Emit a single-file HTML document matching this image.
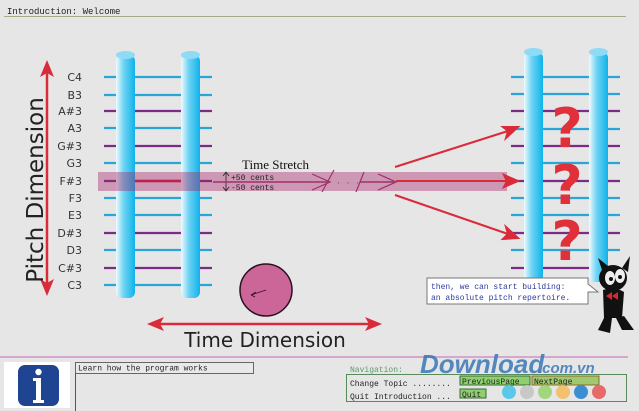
<!DOCTYPE html>
<html><head><meta charset="utf-8"><style>
html,body{margin:0;padding:0;background:#e6e6e6;}
svg{display:block}
.m{font-family:"Liberation Mono",monospace}
.s{font-family:"DejaVu Sans","Liberation Sans",sans-serif}
</style></head><body>
<svg width="639" height="411" viewBox="0 0 639 411" xmlns="http://www.w3.org/2000/svg">
<defs>
<linearGradient id="p" x1="0" x2="1" y1="0" y2="0">
<stop offset="0" stop-color="#f0fafd"/><stop offset="0.4" stop-color="#6fd4f4"/><stop offset="1" stop-color="#0fb2ea"/>
</linearGradient>
</defs>
<rect width="639" height="411" fill="#e6e6e6"/>
<text x="7" y="14" class="m" font-size="9" fill="#222">Introduction: Welcome</text>
<line x1="4" y1="16.5" x2="626" y2="16.5" stroke="#a8aa88" stroke-width="1"/>

<g stroke-width="2.2">
<line x1="104" y1="77" x2="212" y2="77" stroke="#2aa6d6"/>
<line x1="104" y1="95" x2="212" y2="95" stroke="#2aa6d6"/>
<line x1="104" y1="111" x2="212" y2="111" stroke="#7a2c86"/>
<line x1="104" y1="128" x2="212" y2="128" stroke="#2aa6d6"/>
<line x1="104" y1="146" x2="212" y2="146" stroke="#7a2c86"/>
<line x1="104" y1="163" x2="212" y2="163" stroke="#2aa6d6"/>
<line x1="104" y1="181" x2="212" y2="181" stroke="#7a2c86"/>
<line x1="104" y1="198" x2="212" y2="198" stroke="#2aa6d6"/>
<line x1="104" y1="215" x2="212" y2="215" stroke="#2aa6d6"/>
<line x1="104" y1="233" x2="212" y2="233" stroke="#7a2c86"/>
<line x1="104" y1="250" x2="212" y2="250" stroke="#2aa6d6"/>
<line x1="104" y1="268" x2="212" y2="268" stroke="#7a2c86"/>
<line x1="104" y1="285" x2="212" y2="285" stroke="#2aa6d6"/>
</g>
<line x1="135" y1="181" x2="181" y2="181" stroke="#d0203a" stroke-width="2.5"/>
<g class="s" font-size="11" fill="#333" text-anchor="end">
<text x="82" y="81">C4</text><text x="82" y="99">B3</text><text x="82" y="115">A#3</text>
<text x="82" y="132">A3</text><text x="82" y="150">G#3</text><text x="82" y="167">G3</text>
<text x="82" y="185">F#3</text><text x="82" y="202">F3</text><text x="82" y="219">E3</text>
<text x="82" y="237">D#3</text><text x="82" y="254">D3</text><text x="82" y="272">C#3</text>
<text x="82" y="289">C3</text>
</g>
<rect x="116" y="55" width="19" height="243" rx="6" fill="url(#p)"/>
<ellipse cx="125.5" cy="55" rx="9.5" ry="4" fill="#8fdaf5"/>
<rect x="181" y="55" width="19" height="243" rx="6" fill="url(#p)"/>
<ellipse cx="190.5" cy="55" rx="9.5" ry="4" fill="#8fdaf5"/>

<g stroke-width="2.2">
<line x1="511" y1="77" x2="620" y2="77" stroke="#2aa6d6"/>
<line x1="511" y1="94" x2="620" y2="94" stroke="#2aa6d6"/>
<line x1="511" y1="111" x2="620" y2="111" stroke="#7a2c86"/>
<line x1="511" y1="129" x2="620" y2="129" stroke="#2aa6d6"/>
<line x1="511" y1="146" x2="620" y2="146" stroke="#7a2c86"/>
<line x1="511" y1="163" x2="620" y2="163" stroke="#2aa6d6"/>
<line x1="511" y1="181" x2="620" y2="181" stroke="#7a2c86"/>
<line x1="511" y1="198" x2="620" y2="198" stroke="#2aa6d6"/>
<line x1="511" y1="215" x2="620" y2="215" stroke="#2aa6d6"/>
<line x1="511" y1="233" x2="620" y2="233" stroke="#7a2c86"/>
<line x1="511" y1="250" x2="620" y2="250" stroke="#2aa6d6"/>
<line x1="511" y1="268" x2="620" y2="268" stroke="#7a2c86"/>
</g>
<rect x="524" y="52" width="19" height="230" rx="6" fill="url(#p)"/>
<ellipse cx="533.5" cy="52" rx="9.5" ry="4" fill="#8fdaf5"/>
<rect x="589" y="52" width="19" height="230" rx="6" fill="url(#p)"/>
<ellipse cx="598.5" cy="52" rx="9.5" ry="4" fill="#8fdaf5"/>
<g class="s" font-size="54" font-weight="bold" fill="#e0303a" text-anchor="middle">
<text x="567" y="147">?</text><text x="567" y="204">?</text><text x="567" y="260">?</text>
</g>

<rect x="98" y="172" width="409" height="19" fill="#a8246a" fill-opacity="0.4"/>
<text x="242" y="169" font-family="Liberation Serif,serif" font-size="13" fill="#111">Time Stretch</text>
<g class="m" font-size="8" fill="#222"><text x="231" y="180">+50 cents</text><text x="231" y="190">-50 cents</text></g>
<line x1="226" y1="173" x2="226" y2="190" stroke="#222" stroke-width="0.8"/>
<path d="M223,176 L226,172 L229,176 M223,187 L226,191 L229,187" fill="none" stroke="#222" stroke-width="0.8"/>
<line x1="213" y1="182" x2="330" y2="182" stroke="#a0306a" stroke-width="1.5"/>
<path d="M312,174 L330,182 L312,190" fill="none" stroke="#a0306a" stroke-width="1.2"/>
<line x1="322" y1="192" x2="334" y2="170" stroke="#a0306a" stroke-width="1.2"/>
<text x="336" y="185" class="m" font-size="8" fill="#a0306a">· · ·</text>
<line x1="356" y1="192" x2="364" y2="172" stroke="#a0306a" stroke-width="1.2"/>
<line x1="360" y1="182" x2="395" y2="182" stroke="#a0306a" stroke-width="1.5"/>
<path d="M378,174 L396,182 L378,190" fill="none" stroke="#a0306a" stroke-width="1.2"/>
<g stroke="#d92b3a" stroke-width="2" fill="#d92b3a">
<line x1="396" y1="181" x2="508" y2="181"/>
<path d="M518,181 L504,175 L507,181 L504,187Z"/>
<line x1="395" y1="167" x2="508" y2="131"/>
<path d="M518,127 L503,127 L508,131 L506,138Z"/>
<line x1="395" y1="195" x2="508" y2="234"/>
<path d="M518,238 L506,227 L508,234 L503,239Z"/>
</g>

<line x1="47" y1="70" x2="47" y2="286" stroke="#d92b3a" stroke-width="2.5"/>
<path d="M47,60 L40,77 L47,73 L54,77Z M47,296 L40,279 L47,283 L54,279Z" fill="#d92b3a"/>
<text transform="translate(43,190) rotate(-90)" text-anchor="middle" class="s" font-size="23" fill="#222">Pitch Dimension</text>
<line x1="157" y1="324" x2="372" y2="324" stroke="#d92b3a" stroke-width="2.5"/>
<path d="M147,324 L164,317 L160,324 L164,331Z M382,324 L365,317 L369,324 L365,331Z" fill="#d92b3a"/>
<text x="265" y="347" text-anchor="middle" class="s" font-size="20" fill="#222">Time Dimension</text>
<circle cx="266" cy="290" r="26" fill="#cc6699" stroke="#2a1020" stroke-width="1.5"/>
<path d="M266,290 L251,295 M251,295 L256,292 M251,295 L255,297" stroke="#2a1020" stroke-width="0.8" fill="none"/>

<path d="M427,278 H588 V284 L598,292 L588,292 V304 H427Z" fill="#fff" stroke="#777" stroke-width="1"/>
<g class="m" font-size="8" fill="#2c3aa0"><text x="431" y="289">then, we can start building:</text><text x="431" y="300">an absolute pitch repertoire.</text></g>
<g fill="#111">
<ellipse cx="613" cy="278" rx="14" ry="13"/>
<path d="M602,270 L598,258 L608,266Z M622,268 L630,256 L628,272Z"/>
<path d="M603,290 Q614,286 624,292 L622,318 L604,318Z"/>
<path d="M605,316 L598,330 L610,333 L612,318Z M616,318 L622,330 L634,330 L624,316Z"/>
</g>
<ellipse cx="610" cy="278" rx="5" ry="7" fill="#eee"/><ellipse cx="620" cy="276" rx="5" ry="7" fill="#eee"/>
<circle cx="611" cy="279" r="2" fill="#111"/><circle cx="620" cy="277" r="2" fill="#111"/>
<path d="M606,296 L612,292 L612,300Z M618,292 L612,296 L618,300Z" fill="#d6282e"/>

<line x1="0" y1="357" x2="628" y2="357" stroke="#d7a6cf" stroke-width="2"/>
<rect x="4" y="362" width="66" height="46" fill="#fff"/>
<rect x="18" y="365" width="41" height="41" rx="7" fill="#1f4592"/>
<circle cx="38.5" cy="372" r="3.2" fill="#fff"/>
<path d="M33,378 H41 V400 H44 V403 H33 V400 H36 V381 H33Z" fill="#fff"/>
<rect x="75.5" y="362.5" width="178" height="11" fill="#e9e9e9" stroke="#666"/>
<line x1="75.5" y1="373" x2="75.5" y2="411" stroke="#555"/>
<text x="78" y="370.5" class="m" font-size="8" fill="#222">Learn how the program works</text>
<text x="350" y="372" class="m" font-size="8" fill="#5a9a6a">Navigation:</text>
<text x="420" y="373" font-family="Liberation Sans,sans-serif" font-style="italic" font-weight="bold" font-size="26" fill="#3a78b8" opacity="0.85">Download</text>
<text x="538" y="373" font-family="Liberation Sans,sans-serif" font-style="italic" font-weight="bold" font-size="15" fill="#3a78b8" opacity="0.85">.com.vn</text>
<rect x="346.5" y="374.5" width="280" height="27" fill="none" stroke="#5a8a5a"/>
<g class="m" font-size="8" fill="#222"><text x="350" y="386">Change Topic ........</text><text x="350" y="399">Quit Introduction ...</text></g>
<rect x="460" y="376" width="70" height="9" fill="#8fcf6f" stroke="#3a6a3a"/>
<text x="462" y="384" class="m" font-size="8" fill="#222">PreviousPage</text>
<rect x="532" y="376" width="67" height="9" fill="#a0c870" stroke="#8a6a2a"/>
<text x="534" y="384" class="m" font-size="8" fill="#222">NextPage</text>
<rect x="460" y="389" width="26" height="9" fill="#8fcf6f" stroke="#3a6a3a"/>
<text x="462" y="397" class="m" font-size="8" fill="#222">Quit</text>
<circle cx="509" cy="392" r="7" fill="#5ac8ea"/><circle cx="527" cy="392" r="7" fill="#c8c8c8"/>
<circle cx="545" cy="392" r="7" fill="#a2d67e"/><circle cx="563" cy="392" r="7" fill="#f3c070"/>
<circle cx="581" cy="392" r="7" fill="#3c8ed0"/><circle cx="599" cy="392" r="7" fill="#e66a6a"/>
</svg>
</body></html>
